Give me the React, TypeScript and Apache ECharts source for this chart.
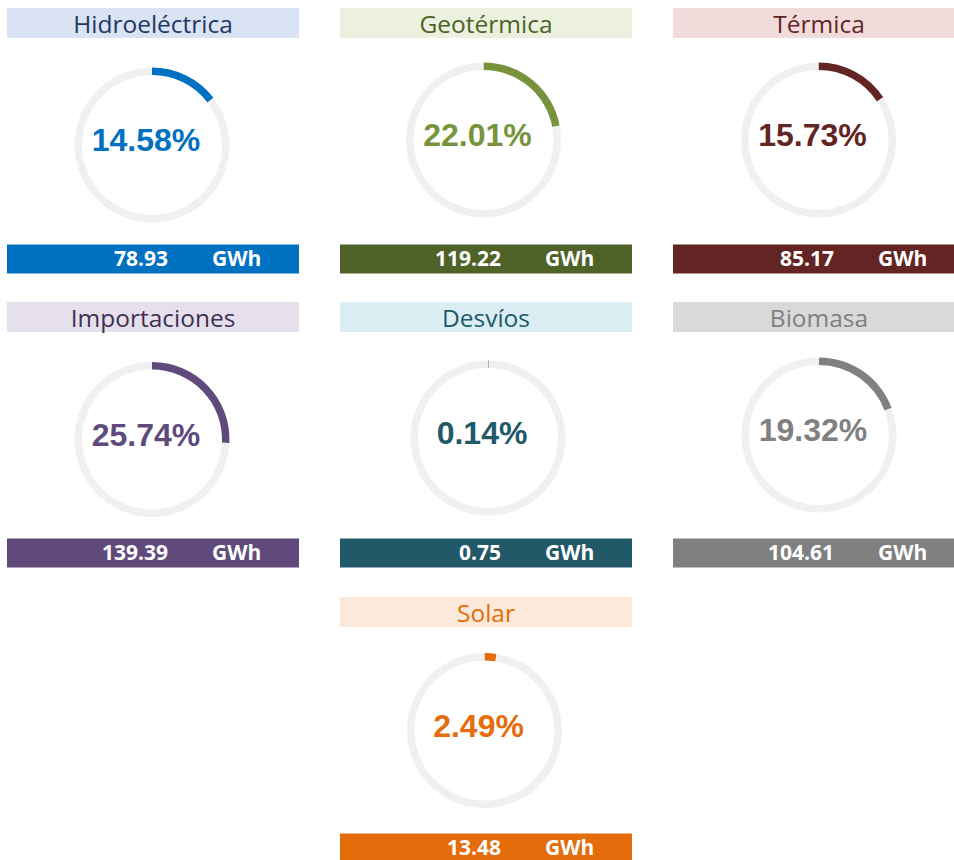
import React, { useEffect, useRef } from "react";
import * as echarts from "echarts";

// ---- data ----
const sources: string[] = [
  "Hidroeléctrica",
  "Geotérmica",
  "Térmica",
  "Importaciones",
  "Desvíos",
  "Biomasa",
  "Solar",
];
const energyGWh: number[] = [78.93, 119.22, 85.17, 139.39, 0.75, 104.61, 13.48];
const sharePct: number[] = [14.58, 22.01, 15.73, 25.74, 0.14, 19.32, 2.49];
const unitLabel = "GWh";

// ---- styles ----
const mainColors = ["#0070C0", "#77933C", "#632523", "#604A7B", "#215968", "#808080", "#E46C0A"];
const barColors = ["#0070C0", "#4F6228", "#632523", "#604A7B", "#215968", "#808080", "#E46C0A"];
const headerBg = ["#DAE3F3", "#EBF1DE", "#F2DCDB", "#E5E0EC", "#DAEEF3", "#D9D9D9", "#FDE9D9"];
const headerText = ["#1F3864", "#4F6228", "#632523", "#3F3151", "#215968", "#808080", "#E46C0A"];
const trackColor = "#F0F0F0";

// ---- layout ----
const PAGE_H = 860;
const colX = [7, 340, 673];
const colW = [292, 292, 281];
const rowY = [8, 302, 597];
const cardCell: [number, number][] = [
  [0, 0], [0, 1], [0, 2],
  [1, 0], [1, 1], [1, 2],
  [2, 1],
];
const ringOffset: [number, number][] = [
  [145, 137], [143.5, 132], [145.5, 132],
  [145, 137.5], [148, 136], [146, 133],
  [144.5, 133.5],
];

export default function App() {
  const ref = useRef<HTMLDivElement>(null);
  useEffect(() => {
    document.body.style.margin = "0";
    if (!ref.current) return;
    const chart = echarts.init(ref.current, undefined, { renderer: "svg" });

    const series: any[] = [];
    const graphic: any[] = [];

    sources.forEach((name, i) => {
      const [r, c] = cardCell[i];
      const x = colX[c];
      const w = colW[c];
      const y = rowY[r];
      const cx = x + ringOffset[i][0];
      const cy = y + ringOffset[i][1];
      const value = energyGWh[i];
      const pct = sharePct[i];

      series.push({
        type: "pie",
        name,
        center: [cx, cy],
        radius: [70, 77.5],
        startAngle: 90,
        clockwise: true,
        silent: true,
        animation: false,
        label: { show: false },
        labelLine: { show: false },
        emphasis: { disabled: true },
        itemStyle: { borderWidth: 0 },
        data: [
          { name, value: pct, itemStyle: { color: mainColors[i] } },
          { name: "resto", value: 100 - pct, itemStyle: { color: trackColor } },
        ],
      });

      // header
      graphic.push({
        type: "rect",
        shape: { x, y, width: w, height: 30 },
        style: { fill: headerBg[i] },
        silent: true,
      });
      graphic.push({
        type: "text",
        x: x + 146,
        y: y + 15,
        style: {
          text: name,
          fill: headerText[i],
          font: "normal 24.5px 'Open Sans', Lato, sans-serif",
          textAlign: "center",
          textVerticalAlign: "middle",
        },
        silent: true,
      });

      // percentage
      graphic.push({
        type: "text",
        x: cx - 6,
        y: cy - 5,
        style: {
          text: pct.toFixed(2) + "%",
          fill: mainColors[i],
          font: "bold 32px 'Liberation Sans', Arial, sans-serif",
          textAlign: "center",
          textVerticalAlign: "middle",
        },
        silent: true,
      });

      // bottom bar
      const by = y + 236.5;
      const bh = Math.min(29, PAGE_H - by);
      const ty = by + 13.5;
      graphic.push({
        type: "rect",
        shape: { x, y: by, width: w, height: bh },
        style: { fill: barColors[i] },
        silent: true,
      });
      graphic.push({
        type: "text",
        x: x + 161,
        y: ty,
        style: {
          text: value.toFixed(2),
          fill: "#FFFFFF",
          font: "bold 21px 'Open Sans', Lato, sans-serif",
          textAlign: "right",
          textVerticalAlign: "middle",
        },
        silent: true,
      });
      graphic.push({
        type: "text",
        x: x + 205,
        y: ty,
        style: {
          text: unitLabel,
          fill: "#FFFFFF",
          font: "bold 21px 'Open Sans', Lato, sans-serif",
          textAlign: "left",
          textVerticalAlign: "middle",
        },
        silent: true,
      });
    });

    chart.setOption({
      animation: false,
      backgroundColor: "#FFFFFF",
      series,
      graphic,
    });
    return () => chart.dispose();
  }, []);

  return <div ref={ref} style={{ width: 954, height: 860 }} />;
}
